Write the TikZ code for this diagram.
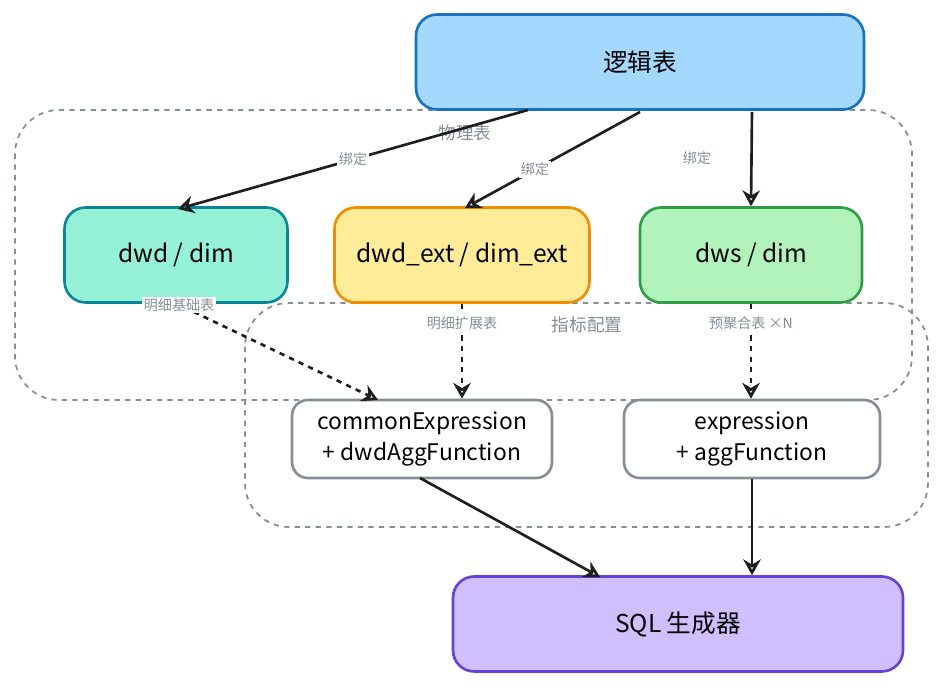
\documentclass[tikz,border=0pt]{standalone}
\usepackage{fontspec}
\setmainfont{Noto Sans CJK SC}
\usetikzlibrary{arrows.meta}

\definecolor{bluefill}{HTML}{A5D8FF}\definecolor{blueline}{HTML}{1971C2}
\definecolor{tealfill}{HTML}{96F2D7}\definecolor{tealline}{HTML}{0C8599}
\definecolor{yellowfill}{HTML}{FFEC99}\definecolor{yellowline}{HTML}{F08C00}
\definecolor{greenfill}{HTML}{B2F2BB}\definecolor{greenline}{HTML}{2F9E44}
\definecolor{violetfill}{HTML}{D0BFFF}\definecolor{violetline}{HTML}{6741D9}
\definecolor{greyline}{HTML}{868E96}
\definecolor{ink}{HTML}{1E1E1E}

\tikzset{
  box/.style={draw, line width=1.5pt, rounded corners=12pt, font=\fontsize{14}{17}\selectfont, align=center, inner sep=0pt},
  exprbox/.style={draw=greyline, fill=white, line width=1.5pt, rounded corners=9pt, font=\fontsize{13}{18}\selectfont, align=center, inner sep=0pt},
  group/.style={draw=greyline, dashed, line width=1pt, rounded corners=25pt},
  grouplabel/.style={text=greyline, fill=white, inner sep=1pt, font=\fontsize{10}{12}\selectfont},
  edgelabel/.style={text=greyline, fill=white, inner sep=1pt, font=\fontsize{8}{10}\selectfont},
  link/.style={draw=ink, line width=1.5pt, -{Stealth[length=9pt,width=10pt,open]}},
  feed/.style={link, dashed},
}

\begin{document}
\begin{tikzpicture}[x=0.02cm,y=-0.02cm]
\useasboundingbox (0,0) rectangle (944,688);

% groups
\draw[group] (15,110) rectangle (912,400);
\draw[group] (245,303) rectangle (928,527);
\node[grouplabel] (physlabel) at (465,133) {物理表};
\node[grouplabel] (metriclabel) at (587,325) {指标配置};

% boxes
\node[box, fill=bluefill, draw=blueline, minimum width=8.96cm, minimum height=1.9cm] (logic) at (640,62) {逻辑表};
\node[box, fill=tealfill, draw=tealline, minimum width=4.46cm, minimum height=1.9cm] (dwd) at (176,255) {dwd / dim};
\node[box, fill=yellowfill, draw=yellowline, minimum width=5.1cm, minimum height=1.9cm] (dwdext) at (462,255) {dwd\_ext / dim\_ext};
\node[box, fill=greenfill, draw=greenline, minimum width=4.44cm, minimum height=1.9cm] (dws) at (751,255) {dws / dim};
\node[exprbox, minimum width=5.2cm, minimum height=1.56cm] (common) at (422,439) {commonExpression\\+ dwdAggFunction};
\node[exprbox, minimum width=5.12cm, minimum height=1.56cm] (expr) at (752,439) {expression\\+ aggFunction};
\node[box, fill=violetfill, draw=violetline, minimum width=9cm, minimum height=1.9cm] (sql) at (678,624) {SQL 生成器};

% connectors
\coordinate (l1) at (528,110);
\coordinate (l2) at (640,112);
\coordinate (l3) at (752,112);
\draw[link] (l1) -- (178,209) node[pos=0.5, edgelabel] {绑定};
\draw[link] (l2) -- (465,208) node[pos=0.6, edgelabel] {绑定};
\draw[link] (l3) -- (dws.north) ;
\node[edgelabel] (bind3) at (697,158) {绑定};

\draw[feed] (175,303) -- (378,400) node[pos=0.02, edgelabel] {明细基础表};
\draw[feed] (dwdext.south) -- (common.north -| dwdext.south) node[pos=0.2, edgelabel] {明细扩展表};
\draw[feed] (dws.south) -- (expr.north -| dws.south) node[pos=0.2, edgelabel] {预聚合表 ×N};

\draw[link] (420,478) -- (600,577);
\draw[link] (expr.south) -- (sql.north -| expr.south);
\end{tikzpicture}
\end{document}
